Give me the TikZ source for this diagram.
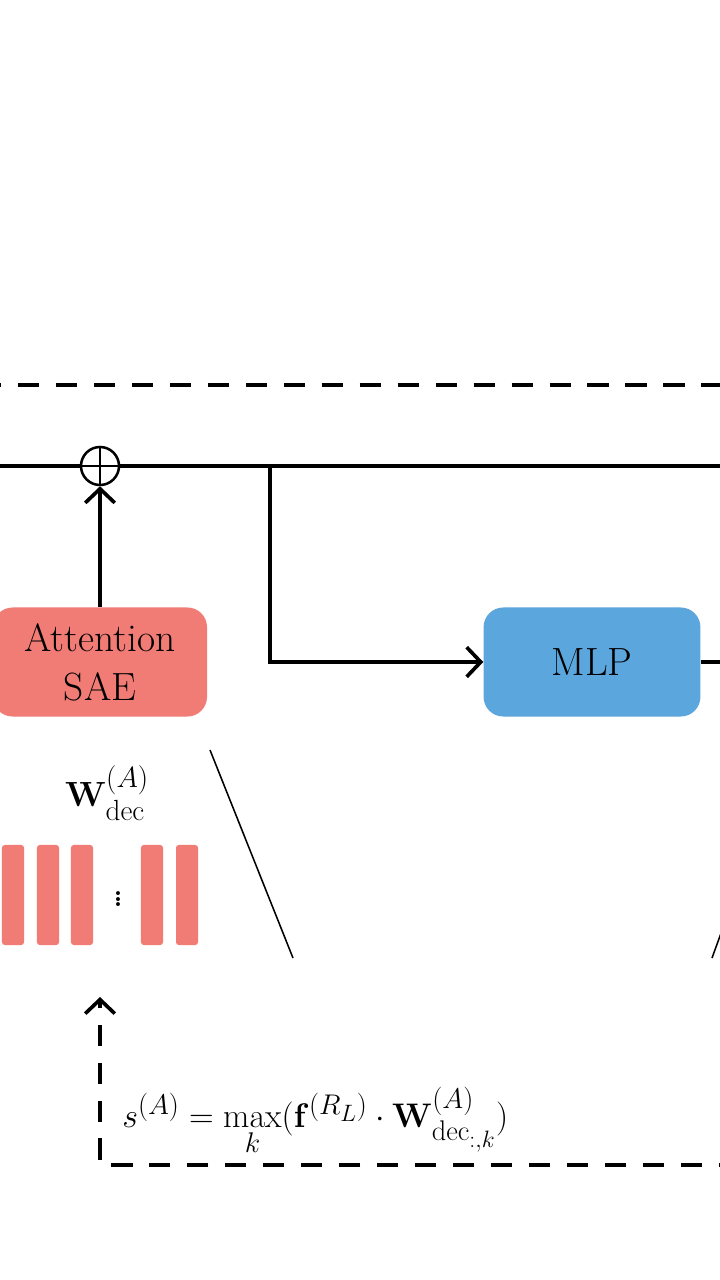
\documentclass[tikz,border=0pt]{standalone}
\usepackage{amsmath}
\usetikzlibrary{arrows.meta}
\definecolor{saered}{RGB}{241,124,118}
\definecolor{mlpblue}{RGB}{92,166,222}
\tikzset{
  mainline/.style={line width=2.7pt},
  tipstyle/.style={-{Straight Barb[length=10pt,width=21pt,line width=2.6pt]}},
  dashline/.style={line width=2.8pt, dash pattern=on 15pt off 12pt},
  thinline/.style={line width=1.1pt},
  bigfont/.style={font=\fontsize{28}{35}\selectfont},
  mathfont/.style={font=\fontsize{24.88}{32}\selectfont},
  boxstyle/.style={rounded corners=14pt, minimum height=2.725cm, align=center, bigfont, inner sep=0pt},
  saebox/.style={boxstyle, fill=saered, minimum width=5.35cm},
  mlpbox/.style={boxstyle, fill=mlpblue, minimum width=5.42cm},
  bar/.style={fill=saered, rounded corners=2pt, minimum width=0.55cm, minimum height=2.5cm, inner sep=0pt},
  addnode/.style={circle, draw, line width=1.8pt, minimum size=0.95cm, inner sep=0pt},
}
\begin{document}
\begin{tikzpicture}[x=0.025cm,y=-0.025cm]
\useasboundingbox (0,0) rectangle (720,1280);
\clip (0,0) rectangle (720,1280);
\fill[white] (0,0) rectangle (720,1280);

% top dashed boundary
\coordinate (tl) at (-20,385);
\coordinate (tr) at (740,385);
\draw[dashline] (tl) -- (tr);

% residual stream
\node[addnode] (plus) at (100,466) {};
\draw[line width=1.8pt] (plus.north) -- (plus.south);
\draw[line width=1.8pt] (plus.west) -- (plus.east);
\coordinate (rin) at (-10,466);
\coordinate (rout) at (730,466);
\draw[mainline] (rin) -- (plus.west);
\draw[mainline] (plus.east) -- (rout);

% boxes
\node[saebox] (att) at (100,662) {Attention\\SAE};
\node[mlpbox] (mlp) at (592,662) {MLP};

\draw[mainline,tipstyle] (att.north) -- (plus.south);
\coordinate (br) at (270,466);
\draw[mainline,tipstyle] (br) |- (mlp.west);
\coordinate (mout) at (730,662);
\draw[mainline] (mlp.east) -- (mout);

% decoder weights
\node[mathfont] (wlab) at (107,793) {$\mathbf{W}^{(A)}_{\mathrm{dec}}$};
\node[bar] (b1) at (13,895) {};
\node[bar] (b2) at (48,895) {};
\node[bar] (b3) at (82,895) {};
\node[font=\fontsize{34}{40}\selectfont, inner sep=0pt] (dots) at (118,895) {$\vdots$};
\node[bar] (b4) at (152,895) {};
\node[bar] (b5) at (187,895) {};

% zoom lines
\coordinate (d1a) at (210,750);
\coordinate (d1b) at (293,958);
\draw[thinline] (d1a) -- (d1b);
\coordinate (d2a) at (712,958);
\coordinate (d2b) at (724,925);
\draw[thinline] (d2a) -- (d2b);

% feedback dashed arrow
\coordinate (fbr) at (740,1165);
\coordinate (fbc) at (100,1165);
\coordinate (fbt) at (100,997);
\draw[dashline,tipstyle] (fbr) -- (fbc) -- (fbt);

% formula
\node[mathfont, anchor=base west, inner sep=0pt, scale=0.975, transform shape] (eq) at (122,1127)
  {$s^{(A)} = \max\limits_{k}(\mathbf{f}^{(R_L)}\cdot \mathbf{W}^{(A)}_{\mathrm{dec}_{:,k}})$};
\end{tikzpicture}
\end{document}
